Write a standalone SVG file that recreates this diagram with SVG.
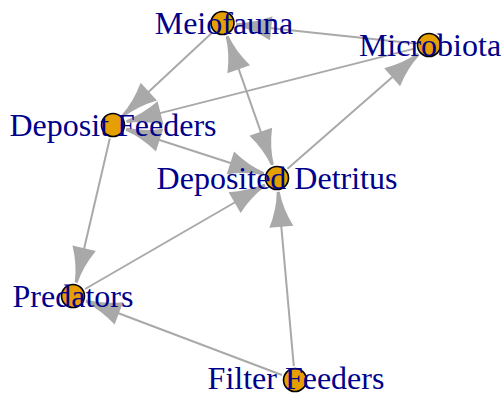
<svg xmlns="http://www.w3.org/2000/svg" width="504" height="394" viewBox="0 0 504 394">
<style>
.e{stroke:#A9A9A9;stroke-width:2;fill:none;marker-end:url(#ah)}
.b{marker-start:url(#ah)}
.n circle{fill:#E69F00;stroke:#000;stroke-width:1.6}
.n text{font-family:"Liberation Serif",serif;font-size:32px;fill:#00008B;text-anchor:middle}
</style>
<defs>
<marker id="ah" markerUnits="userSpaceOnUse" viewBox="-36 -13 36 26" refX="0" refY="0" markerWidth="36" markerHeight="26" orient="auto-start-reverse" overflow="visible">
<path d="M0,-1.5 Q-17,-3 -35,-12 L-35,12 Q-17,3 0,1.5 Z" fill="#A9A9A9"/>
</marker>
</defs>
<rect width="504" height="394" fill="#fff"/>
<g id="edges">
<line class="e" x1="415.1" y1="43.5" x2="236.4" y2="24.5"/>
<line class="e b" x1="227.1" y1="36.2" x2="272.4" y2="164.8"/>
<line class="e" x1="212.3" y1="32.5" x2="123.2" y2="115.5"/>
<line class="e" x1="415.4" y1="48.4" x2="126.6" y2="121.6"/>
<line class="e b" x1="126.3" y1="129.3" x2="263.7" y2="173.7"/>
<line class="e" x1="287.5" y1="168.8" x2="418.5" y2="54.2"/>
<line class="e" x1="109.8" y1="138.6" x2="76.2" y2="282.4"/>
<line class="e" x1="85.1" y1="289.0" x2="264.9" y2="185.0"/>
<line class="e" x1="281.9" y1="375.0" x2="86.1" y2="301.0"/>
<line class="e" x1="293.8" y1="366.1" x2="278.2" y2="191.9"/>
</g>
<g id="Meiofauna" class="n"><circle cx="222.5" cy="23" r="11.5"/><text x="224" y="33.5">Meiofauna</text></g>
<g id="Microbiota" class="n"><circle cx="429" cy="45" r="11.5"/><text x="430" y="56">Microbiota</text></g>
<g id="DepositFeeders" class="n"><circle cx="113" cy="125" r="11.5"/><text x="113" y="136">Deposit Feeders</text></g>
<g id="DepositedDetritus" class="n"><circle cx="277" cy="178" r="11.5"/><text x="277" y="189">Deposited Detritus</text></g>
<g id="Predators" class="n"><circle cx="73" cy="296" r="11.5"/><text x="73" y="307">Predators</text></g>
<g id="FilterFeeders" class="n"><circle cx="295" cy="380" r="11.5"/><text x="296" y="389">Filter Feeders</text></g>
</svg>
